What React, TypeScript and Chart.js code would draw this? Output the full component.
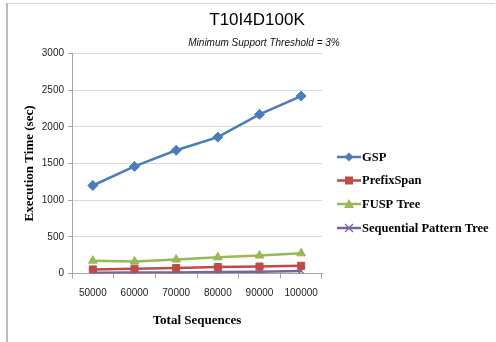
import React, { useEffect, useRef } from "react";
import { Chart, registerables } from "chart.js";

Chart.register(...registerables);

const categories = ["50000", "60000", "70000", "80000", "90000", "100000"];
const gspValues = [1200, 1460, 1680, 1860, 2170, 2420];
const prefixSpanValues = [55, 65, 75, 88, 95, 105];
const fuspTreeValues = [175, 165, 190, 220, 245, 275];
const sptValues = [10, 12, 15, 20, 25, 35];
const seriesNames = ["GSP", "PrefixSpan", "FUSP Tree", "Sequential Pattern Tree"];
const seriesColors = ["#4A7EBB", "#BE4B48", "#98B954", "#7D60A0"];
const seriesMarkers = ["rectRot", "rect", "triangle", "crossRot"];
const titleText = "T10I4D100K";
const subtitleText = "Minimum Support Threshold = 3%";
const yAxisTitle = "Execution Time (sec)";
const xAxisTitle = "Total Sequences";

function drawMarker(ctx: CanvasRenderingContext2D, style: string, x: number, y: number, color: string) {
  ctx.save();
  ctx.fillStyle = color;
  ctx.strokeStyle = color;
  ctx.beginPath();
  if (style === "rectRot") {
    const r = 4.5;
    ctx.moveTo(x, y - r);
    ctx.lineTo(x + r, y);
    ctx.lineTo(x, y + r);
    ctx.lineTo(x - r, y);
    ctx.closePath();
    ctx.fill();
  } else if (style === "rect") {
    const r = 4;
    ctx.rect(x - r, y - r, 2 * r, 2 * r);
    ctx.fill();
  } else if (style === "triangle") {
    const r = 5;
    ctx.moveTo(x, y - r);
    ctx.lineTo(x + r, y + r * 0.8);
    ctx.lineTo(x - r, y + r * 0.8);
    ctx.closePath();
    ctx.fill();
  } else {
    const r = 4;
    ctx.lineWidth = 1.2;
    ctx.moveTo(x - r, y - r);
    ctx.lineTo(x + r, y + r);
    ctx.moveTo(x + r, y - r);
    ctx.lineTo(x - r, y + r);
    ctx.stroke();
  }
  ctx.restore();
}

const decorPlugin = {
  id: "decor",
  beforeDraw(chart: any) {
    const ctx = chart.ctx as CanvasRenderingContext2D;
    ctx.save();
    ctx.fillStyle = "#ffffff";
    ctx.fillRect(0, 0, chart.width, chart.height);
    ctx.strokeStyle = "#d9d9d9";
    ctx.lineWidth = 1;
    ctx.beginPath();
    ctx.moveTo(6, 3.5);
    ctx.lineTo(495, 3.5);
    ctx.stroke();
    ctx.strokeStyle = "#bdbdbd";
    ctx.lineWidth = 2;
    ctx.beginPath();
    ctx.moveTo(7, 3);
    ctx.lineTo(7, 342);
    ctx.stroke();
    ctx.restore();
  },
  afterDraw(chart: any) {
    const ctx = chart.ctx as CanvasRenderingContext2D;
    ctx.save();
    ctx.fillStyle = "#000000";
    ctx.textAlign = "center";
    ctx.textBaseline = "middle";
    ctx.font = "17px 'Liberation Sans', Arial, sans-serif";
    ctx.fillText(titleText, 257, 20);
    ctx.fillStyle = "#111111";
    ctx.font = "italic 10px 'Liberation Sans', Arial, sans-serif";
    ctx.fillText(subtitleText, 264, 43.5);

    // legend
    const x0 = 337;
    const x1 = 361;
    const ys = [157, 180.5, 204, 228];
    ctx.textAlign = "left";
    ctx.font = "bold 12.5px 'Liberation Serif', 'Times New Roman', serif";
    seriesNames.forEach((name, i) => {
      const y = ys[i];
      ctx.strokeStyle = seriesColors[i];
      ctx.lineWidth = 2.5;
      ctx.beginPath();
      ctx.moveTo(x0, y);
      ctx.lineTo(x1, y);
      ctx.stroke();
      drawMarker(ctx, seriesMarkers[i], (x0 + x1) / 2, y, seriesColors[i]);
      ctx.fillStyle = "#000000";
      ctx.fillText(name, x1 + 1, y + 0.5);
    });
    ctx.restore();
  },
};

export default function App() {
  const canvasRef = useRef<HTMLCanvasElement | null>(null);

  useEffect(() => {
    const canvas = canvasRef.current;
    if (!canvas) return;
    const values = [gspValues, prefixSpanValues, fuspTreeValues, sptValues];
    const chart = new Chart(canvas, {
      type: "line",
      data: {
        labels: categories,
        datasets: seriesNames.map((name, i) => ({
          label: name,
          data: values[i],
          borderColor: seriesColors[i],
          backgroundColor: seriesColors[i],
          borderWidth: 2.5,
          pointStyle: seriesMarkers[i] as any,
          pointRadius: i === 0 ? 5 : 5,
          pointBorderWidth: i === 3 ? 1.2 : 1,
          pointBorderColor: seriesColors[i],
          pointBackgroundColor: seriesColors[i],
          tension: 0,
          fill: false,
        })),
      },
      options: {
        responsive: false,
        animation: false,
        layout: { padding: { top: 53.5, left: 0, right: 174, bottom: 0 } },
        plugins: {
          legend: { display: false },
          title: { display: false },
          tooltip: { enabled: false },
        },
        scales: {
          x: {
            offset: true,
            afterFit: (s: any) => {
              s.height = 342 - 273.5;
            },
            grid: {
              display: true,
              offset: true,
              drawOnChartArea: false,
              drawTicks: true,
              tickLength: 5,
              color: "#a6a6a6",
            },
            border: { display: true, color: "#a6a6a6", width: 1 },
            ticks: {
              color: "#222222",
              padding: 9,
              maxRotation: 0,
              autoSkip: false,
              font: { family: "'Liberation Sans', Arial, sans-serif", size: 10 },
            },
            title: {
              display: true,
              text: xAxisTitle,
              color: "#000000",
              padding: { top: 0, bottom: 14 },
              font: { family: "'Liberation Serif', 'Times New Roman', serif", size: 13, weight: "bold" },
            },
          },
          y: {
            min: 0,
            max: 3000,
            afterFit: (s: any) => {
              s.width = 72;
            },
            grid: {
              color: "#d9d9d9",
              tickColor: "#a6a6a6",
              tickLength: 4,
            },
            border: { display: true, color: "#a6a6a6", width: 1 },
            ticks: {
              stepSize: 500,
              color: "#222222",
              padding: 4,
              callback: (v: any) => String(v),
              font: { family: "'Liberation Sans', Arial, sans-serif", size: 10 },
            },
            title: {
              display: true,
              text: yAxisTitle,
              color: "#000000",
              padding: { top: 22, bottom: 0 },
              font: { family: "'Liberation Serif', 'Times New Roman', serif", size: 13, weight: "bold" },
            },
          },
        },
      },
      plugins: [decorPlugin],
    });
    return () => chart.destroy();
  }, []);

  return (
    <div style={{ position: "absolute", left: 0, top: 0, width: 496, height: 342, background: "#ffffff" }}>
      <canvas ref={canvasRef} width={496} height={342} style={{ width: 496, height: 342, display: "block" }} />
    </div>
  );
}
